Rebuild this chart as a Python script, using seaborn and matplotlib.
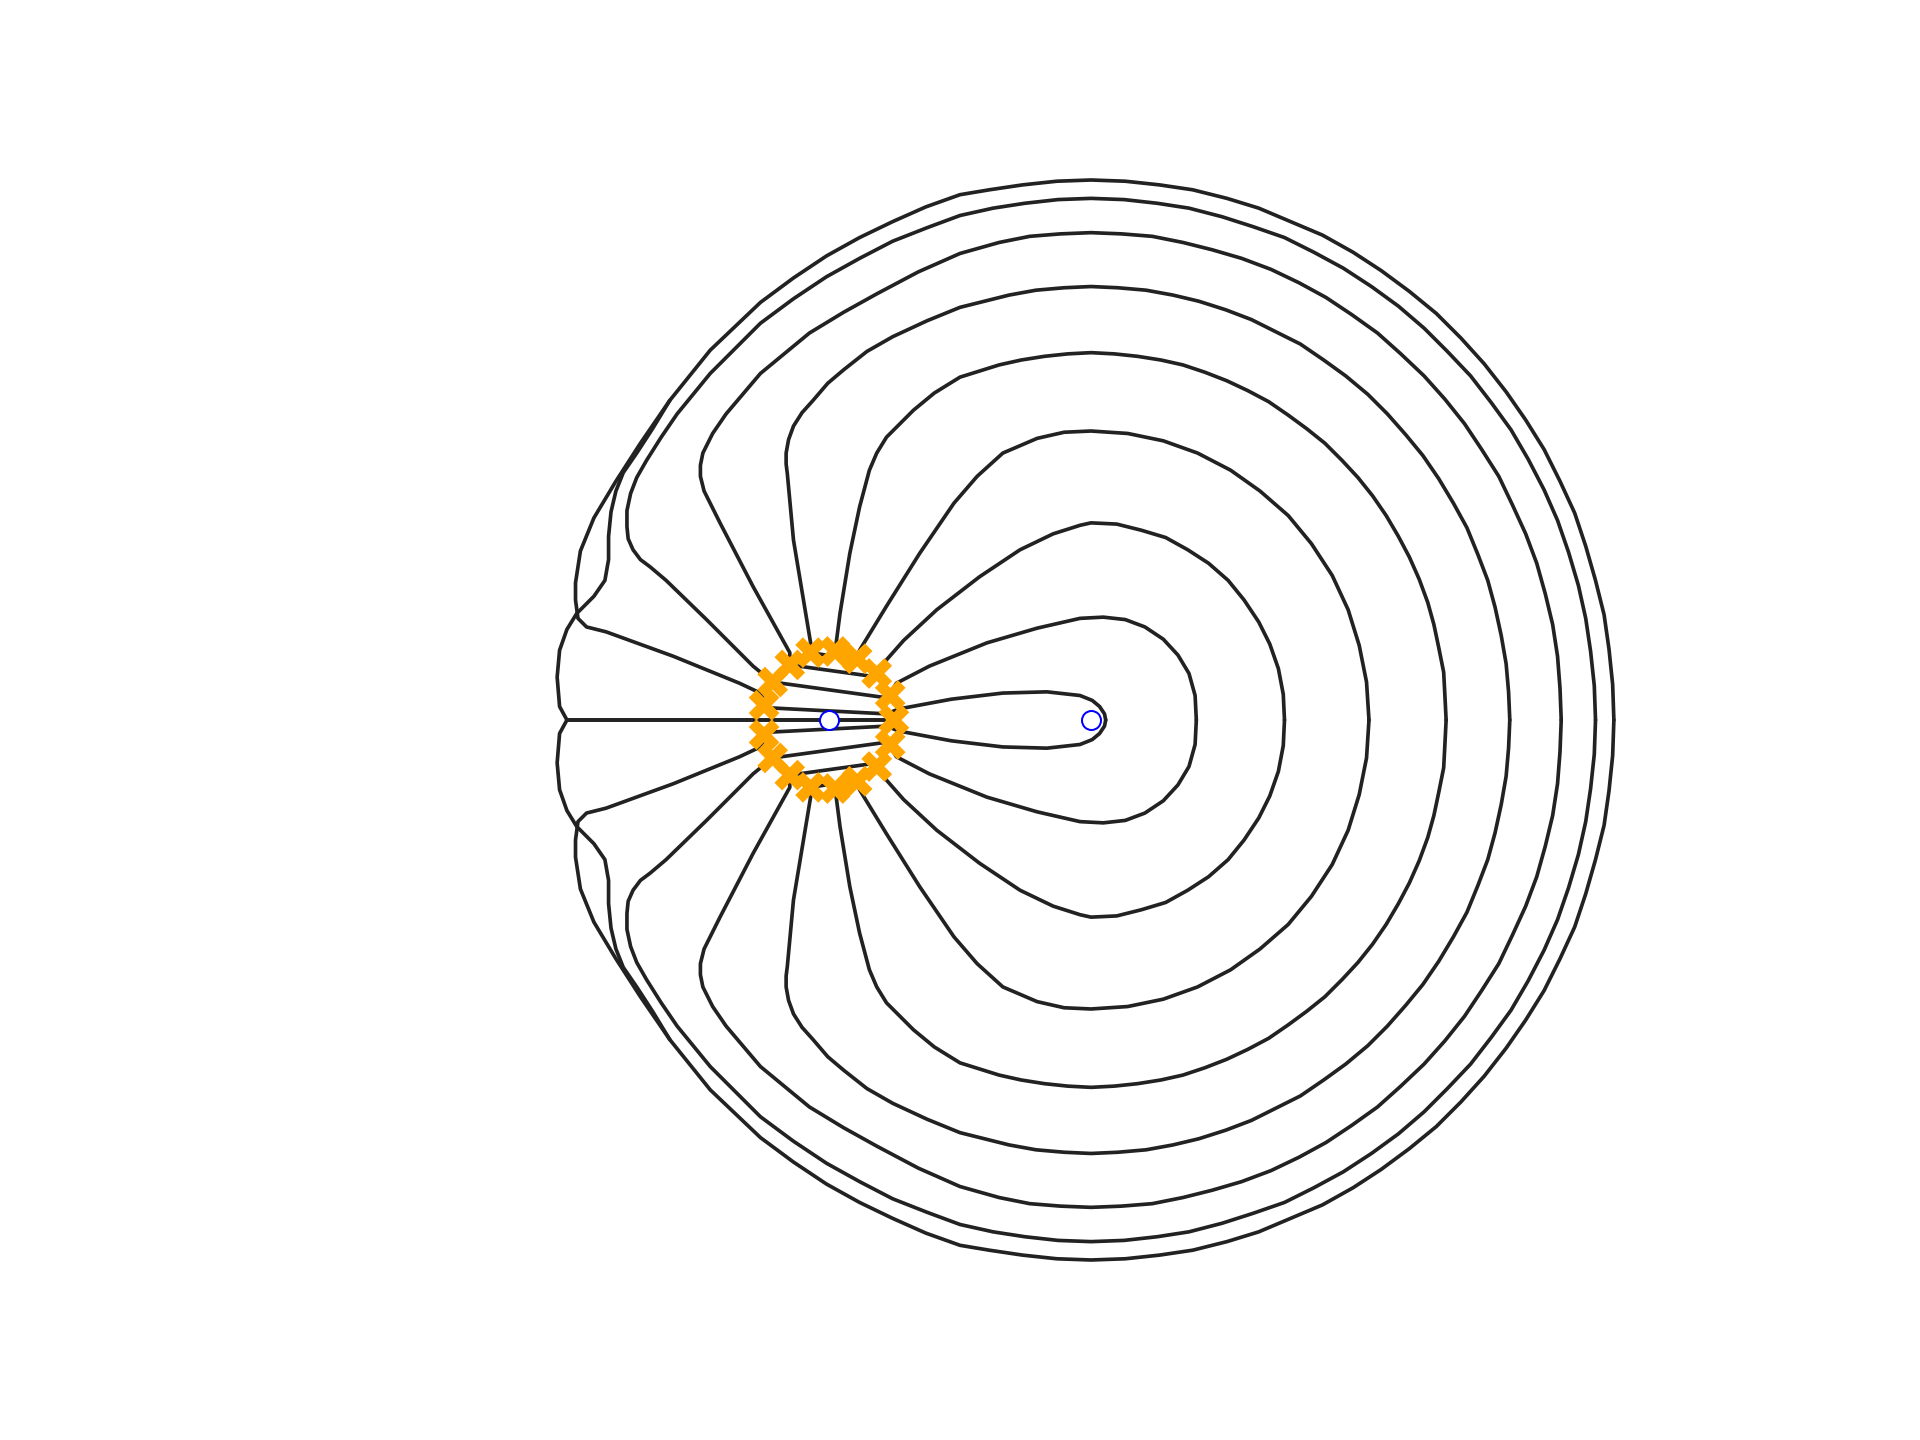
import numpy as np
import seaborn as sns
import matplotlib
matplotlib.use("Agg")
import matplotlib.pyplot as plt

# upper half of each field line (mirrored below the axis when drawn)
# coordinates relative to the left charge, y up

# outermost loop -> straight run into the ring -> chord -> small loop round the right charge
x_loop1 = [641, 640, 637, 633, 626, 618, 609, 597, 584, 569, 553, 535, 516, 496, 474, 451, 428, 403, 377, 351,
           325, 297, 270, 242, 214, 186, 158, 131, 107, 79, 52, 25, -2, -29, -56, -97, -130, -154, -174, -192,
           -203, -207, -207, -205, -198, -182, -127, -73, -56, -50, 47, 57, 100, 142, 178, 205, 215, 221, 225, 226]
y_loop1 = [0, 29, 58, 86, 114, 142, 169, 195, 221, 245, 268, 291, 312, 332, 350, 367, 382, 396, 407, 418,
           426, 433, 437, 440, 441, 440, 437, 433, 429, 419, 407, 394, 379, 361, 341, 302, 261, 226, 195, 165,
           138, 112, 98, 83, 76, 72, 52, 30, 22, 10, 5, 9, 17, 22, 23, 20, 16, 11, 5, 0]

x_loop2 = [626, 625, 622, 618, 612, 604, 595, 584, 571, 557, 541, 524, 505, 486, 465, 443, 420, 396, 372, 346,
           321, 294, 268, 241, 214, 187, 160, 134, 107, 80, 52, 25, -2, -29, -56, -97, -124, -137, -149, -157,
           -162, -165, -165, -164, -160, -154, -146, -133, -100, -62, -46, 48, 55, 82, 129, 170, 205, 224, 242, 258,
           273, 285, 294, 299, 300]
y_loop2 = [0, 28, 56, 83, 110, 137, 163, 188, 213, 237, 259, 281, 301, 320, 338, 354, 369, 382, 394, 403,
           411, 418, 422, 425, 426, 425, 422, 418, 412, 402, 391, 377, 362, 344, 324, 283, 250, 231, 212, 198,
           185, 171, 158, 148, 139, 131, 125, 114, 82, 44, 31, 18, 30, 44, 63, 75, 83, 84, 82, 76,
           66, 53, 38, 20, 0]

x_loop3 = [598, 597, 595, 591, 585, 578, 569, 558, 547, 533, 519, 503, 486, 467, 448, 427, 406, 384, 361, 337,
           313, 289, 264, 239, 214, 189, 164, 139, 107, 73, 39, 12, -16, -56, -84, -95, -103, -105, -105, -102,
           -97, -89, -62, -32, -32, 40, 46, 61, 88, 123, 156, 183, 205, 214, 235, 255, 275, 293, 310, 326,
           339, 351, 360, 367, 371, 372]
y_loop3 = [0, 26, 52, 78, 103, 128, 152, 176, 199, 221, 242, 262, 281, 299, 316, 331, 345, 357, 368, 377,
           384, 390, 395, 397, 398, 397, 395, 390, 381, 366, 348, 333, 316, 283, 250, 234, 218, 208, 199, 187,
           177, 161, 109, 55, 45, 35, 48, 65, 90, 117, 139, 152, 159, 161, 160, 155, 149, 139, 128, 114,
           98, 80, 62, 42, 21, 0]

x_loop4 = [556, 555, 553, 549, 544, 538, 530, 521, 510, 498, 485, 471, 456, 440, 422, 404, 385, 365, 345, 324,
           302, 281, 259, 236, 214, 192, 169, 147, 107, 80, 52, 31, 12, -1, -13, -22, -29, -33, -35, -35,
           -34, -29, -15, -15, 23, 25, 47, 74, 102, 121, 142, 170, 192, 214, 244, 273, 301, 328, 352, 375,
           394, 411, 424, 433, 439, 441]
y_loop4 = [0, 23, 46, 69, 92, 114, 135, 157, 177, 197, 216, 233, 250, 266, 281, 294, 307, 317, 327, 335,
           342, 347, 351, 353, 354, 353, 351, 347, 337, 326, 313, 301, 286, 275, 261, 251, 240, 229, 218, 209,
           201, 147, 63, 55, 49, 57, 93, 136, 177, 199, 218, 230, 235, 236, 234, 228, 218, 204, 187, 167,
           144, 118, 90, 61, 31, 0]

x_loop5 = [504, 503, 502, 498, 494, 489, 482, 474, 465, 455, 444, 432, 419, 405, 390, 375, 359, 342, 325, 307,
           289, 271, 252, 233, 214, 195, 176, 157, 139, 107, 86, 69, 47, 39, 33, 25, 17, 9, 5]
y_loop5 = [0, 20, 39, 59, 78, 96, 115, 133, 150, 167, 183, 198, 212, 226, 238, 249, 260, 269, 277, 284,
           290, 294, 297, 299, 300, 299, 297, 294, 290, 280, 267, 253, 231, 218, 204, 174, 136, 87, 56]

# axis line that splits on the far left and joins the outer loop
x_loop6 = [53, -214, -220, -222, -220, -214, -206, -192, -183, -180, -180, -178, -174, -168, -157, -144, -130]
y_loop6 = [0, 0, 11, 35, 57, 74, 87, 101, 114, 131, 150, 170, 187, 202, 218, 238, 261]

# seed points on the ring (upper half + axis point)
seed_x = [53, 50, 39, 23, 5, -15, -32, -46, -53]
seed_y = [0, 20, 38, 50, 56, 55, 45, 31, 12]

# charges
charge_x = [0, 214]
charge_y = [0, 0]

lines = [(x_loop1, y_loop1), (x_loop2, y_loop2), (x_loop3, y_loop3),
         (x_loop4, y_loop4), (x_loop5, y_loop5), (x_loop6, y_loop6)]

sns.set_theme(style="white")

fig = plt.figure(figsize=(16, 12), dpi=120)
ax = fig.add_axes([0, 0, 1, 1])

for xs, ys in lines:
    for sign in (1, -1):
        sns.lineplot(x=xs, y=[sign * v for v in ys], sort=False, estimator=None, color="#222222",
                     linewidth=2.2, solid_joinstyle="round", ax=ax)

# crosses on both halves of the ring
sx = seed_x + seed_x[1:]
sy = seed_y + [-v for v in seed_y[1:]]
sns.scatterplot(x=sx, y=sy, marker="X", s=340, color="orange", edgecolor="none", linewidth=0, zorder=3, ax=ax)

sns.scatterplot(x=charge_x, y=charge_y, marker="o", s=130, facecolor="white", edgecolor="blue",
                linewidth=1.2, zorder=4, ax=ax)

ax.set_xlim(-677, 891)
ax.set_ylim(-588, 588)
ax.axis("off")

fig.savefig("out.png", dpi=120, facecolor="white")
